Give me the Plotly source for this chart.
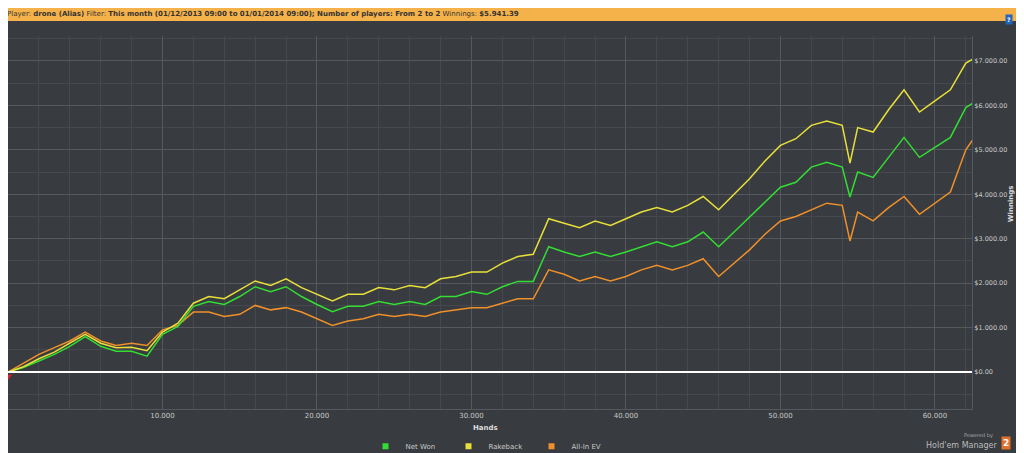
import plotly.graph_objects as go

hands = [0, 1000, 2000, 3000, 4000, 5000, 6000, 7000, 8000, 9000, 10000, 11000, 12000, 13000, 14000,
         15000, 16000, 17000, 18000, 19000, 20000, 21000, 22000, 23000, 24000, 25000, 26000, 27000,
         28000, 29000, 30000, 31000, 32000, 33000, 34000, 35000, 36000, 37000, 38000, 39000, 40000,
         41000, 42000, 43000, 44000, 45000, 46000, 47000, 48000, 49000, 50000, 51000, 52000, 53000,
         54000, 54500, 55000, 56000, 57000, 58000, 59000, 60000, 61000, 62000, 62500]

net_won = [0, 100, 250, 400, 580, 800, 580, 470, 470, 360, 850, 1030, 1480, 1590, 1520, 1700, 1920,
           1810, 1920, 1700, 1520, 1360, 1480, 1480, 1590, 1520, 1590, 1520, 1700, 1700, 1810, 1750,
           1920, 2040, 2040, 2820, 2700, 2600, 2700, 2600, 2700, 2820, 2930, 2820, 2930, 3150, 2820,
           3150, 3490, 3830, 4160, 4270, 4610, 4720, 4610, 3940, 4500, 4380, 4830, 5280, 4830, 5060,
           5280, 5950, 6060]

rakeback = [0, 120, 300, 450, 650, 850, 650, 550, 560, 480, 900, 1100, 1550, 1700, 1650, 1850, 2050,
            1950, 2100, 1900, 1750, 1600, 1750, 1750, 1900, 1850, 1950, 1900, 2100, 2150, 2250, 2250,
            2450, 2600, 2650, 3450, 3350, 3250, 3400, 3300, 3450, 3600, 3700, 3600, 3750, 3950, 3650,
            4000, 4350, 4750, 5100, 5250, 5550, 5650, 5550, 4700, 5500, 5400, 5900, 6350, 5850, 6100,
            6350, 6950, 7050]

allin_ev = [0, 200, 400, 550, 700, 900, 700, 600, 650, 600, 950, 1050, 1350, 1350, 1250, 1300, 1500,
            1400, 1450, 1350, 1200, 1050, 1150, 1200, 1300, 1250, 1300, 1250, 1350, 1400, 1450, 1450,
            1550, 1650, 1650, 2300, 2200, 2050, 2150, 2050, 2150, 2300, 2400, 2300, 2400, 2550, 2150,
            2450, 2750, 3100, 3400, 3500, 3650, 3800, 3750, 2950, 3600, 3400, 3700, 3950, 3550, 3800,
            4050, 5000, 5250]

y_ticks = [0, 1000, 2000, 3000, 4000, 5000, 6000, 7000]
y_labels = ['$0.00', '$1.000.00', '$2.000.00', '$3.000.00', '$4.000.00', '$5.000.00', '$6.000.00', '$7.000.00']
x_ticks = [10000, 20000, 30000, 40000, 50000, 60000]
x_labels = ['10.000', '20.000', '30.000', '40.000', '50.000', '60.000']

colors = {'Net Won': '#33dd33', 'Rakeback': '#e8e03a', 'All-In EV': '#f0902a'}

fig = go.Figure()
fig.add_trace(go.Scatter(x=hands, y=allin_ev, mode='lines', showlegend=False, line=dict(color=colors['All-In EV'], width=1.5)))
fig.add_trace(go.Scatter(x=hands, y=net_won, mode='lines', showlegend=False, line=dict(color=colors['Net Won'], width=1.5)))
fig.add_trace(go.Scatter(x=hands, y=rakeback, mode='lines', showlegend=False, line=dict(color=colors['Rakeback'], width=1.5)))
# legend entries with square swatches
for name in ['Net Won', 'Rakeback', 'All-In EV']:
    fig.add_trace(go.Scatter(x=[None], y=[None], mode='markers', name=name,
                             marker=dict(symbol='square', color=colors[name], size=6)))
# start / end markers
fig.add_trace(go.Scatter(x=[hands[0]], y=[-100], mode='markers', showlegend=False, cliponaxis=False,
                         marker=dict(symbol='triangle-down', color='#dd2222', size=7)))
fig.add_trace(go.Scatter(x=[hands[-1]], y=[net_won[-1] + 150], mode='markers', showlegend=False, cliponaxis=False,
                         marker=dict(symbol='triangle-up', color='#22aa22', size=7)))

fig.update_layout(
    width=1024, height=453,
    paper_bgcolor='#383b3f', plot_bgcolor='#383b3f',
    margin=dict(l=0, r=60, t=28, b=50),
    font=dict(family='DejaVu Sans', color='#c8c8c8', size=7),
    legend=dict(orientation='h', x=0.5, xanchor='center', y=-0.1, yanchor='middle',
                traceorder='normal', font=dict(size=7, color='#c8c8c8'), itemwidth=30,
                entrywidth=38, entrywidthmode='pixels'),
    shapes=[dict(type='rect', xref='paper', yref='paper', x0=-0.01, x1=1.07, y0=1.04, y1=1.1,
                 fillcolor='#f5b14a', line=dict(width=0), layer='above'),
            dict(type='line', xref='paper', yref='y', x0=0, x1=1, y0=0, y1=0,
                 line=dict(color='white', width=2))],
    annotations=[
        dict(text='Player: <b>drone (Alias)</b> Filter: <b>This month (01/12/2013 09:00 to 01/01/2014 09:00); Number of players: From 2 to 2</b> Winnings: <b>$5.941.39</b>',
             xref='paper', yref='paper', x=-0.003, y=1.058, xanchor='left', yanchor='middle',
             showarrow=False, font=dict(size=7, color='#333333')),
        dict(text='<b>Hands</b>', xref='paper', yref='paper', x=0.495, y=-0.068, showarrow=False,
             font=dict(size=7, color='#dddddd')),
        dict(text='<b>Winnings</b>', xref='paper', yref='paper', x=1.047, y=0.55, textangle=-90,
             showarrow=False, font=dict(size=7, color='#dddddd')),
        dict(text='Powered by', xref='paper', yref='paper', x=1.024, y=-0.085, xanchor='right',
             showarrow=False, font=dict(size=5, color='#aaaaaa')),
        dict(text="Hold'em Manager", xref='paper', yref='paper', x=1.028, y=-0.115, xanchor='right',
             showarrow=False, font=dict(size=8, color='#bbbbbb')),
        dict(text='<b>2</b>', xref='paper', yref='paper', x=1.04, y=-0.11, showarrow=False,
             bgcolor='#e0702a', font=dict(size=9, color='white')),
        dict(text='<b>?</b>', xref='paper', yref='paper', x=1.043, y=1.058, showarrow=False,
             bgcolor='#2266bb', font=dict(size=6, color='white')),
    ],
)
fig.update_xaxes(range=[0, 62400], tickvals=x_ticks, ticktext=x_labels, showgrid=True,
                 gridcolor='#55595d', gridwidth=1, zeroline=False, showline=True, linecolor='#55595d',
                 minor=dict(dtick=2000, showgrid=True, gridcolor='#45494d'),
                 tickfont=dict(size=7, color='#c8c8c8'))
fig.update_yaxes(range=[-830, 7560], side='right', tickvals=y_ticks, ticktext=y_labels, showgrid=True,
                 gridcolor='#55595d', gridwidth=1, zeroline=False, showline=True, linecolor='#55595d',
                 minor=dict(dtick=500, showgrid=True, gridcolor='#45494d'),
                 tickfont=dict(size=6.5, color='#c8c8c8'))

fig.write_html("out.html")
